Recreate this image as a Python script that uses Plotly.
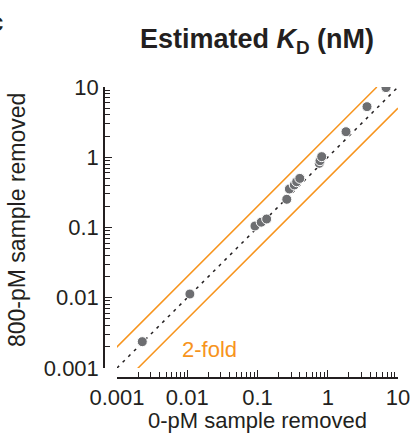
import plotly.graph_objects as go

# Estimated KD (nM)
kd_0pm_removed = [0.00229, 0.0109, 0.092, 0.113, 0.135, 0.261, 0.284, 0.334, 0.361, 0.40,
                  0.758, 0.776, 0.82, 1.82, 3.62, 6.75]
kd_800pm_removed = [0.00237, 0.0113, 0.105, 0.119, 0.132, 0.252, 0.353, 0.403, 0.449, 0.50,
                    0.82, 0.893, 1.02, 2.31, 5.25, 9.8]
line_x = [0.001, 10]
fold = 2
tick_vals = [0.001, 0.01, 0.1, 1, 10]
tick_text = ["0.001", "0.01", "0.1", "1", "10"]

ORANGE = "#f7941d"
DARK = "#231f20"
GREY = "#6d6e71"
FONT = "Liberation Sans"

fig = go.Figure()
# 2-fold lines
fig.add_trace(go.Scatter(x=[v / fold for v in line_x], y=line_x, mode="lines",
                         line=dict(color=ORANGE, width=1.5), hoverinfo="skip"))
fig.add_trace(go.Scatter(x=line_x, y=[v / fold for v in line_x], mode="lines",
                         line=dict(color=ORANGE, width=1.5), hoverinfo="skip"))
# identity line
fig.add_trace(go.Scatter(x=line_x, y=line_x, mode="lines",
                         line=dict(color=DARK, width=1.5, dash="3px,5px"), hoverinfo="skip"))
# data
fig.add_trace(go.Scatter(x=kd_0pm_removed, y=kd_800pm_removed, mode="markers",
                         marker=dict(color=GREY, size=10, line=dict(color="white", width=1))))

W, H = 412, 433
L, R, T, B = 104, 14, 87, 55
pw, ph = W - L - R, H - T - B

axis_common = dict(
    type="log", range=[-3, 1], tickvals=tick_vals, ticktext=tick_text,
    showline=True, linecolor=DARK, linewidth=1.5,
    ticks="inside", ticklen=7, tickwidth=1.3, tickcolor=DARK,
    minor=dict(ticks="inside", ticklen=5, tickwidth=1, tickcolor=DARK, dtick="D1", showgrid=False),
    showgrid=False, zeroline=False,
    tickfont=dict(family=FONT, size=22, color=DARK),
    anchor="free", position=0,
)

fig.update_layout(
    width=W, height=H,
    margin=dict(l=L, r=R, t=T, b=B, autoexpand=False),
    paper_bgcolor="white", plot_bgcolor="white",
    showlegend=False,
    xaxis=dict(axis_common, domain=[13 / pw, 1]),
    yaxis=dict(axis_common, domain=[10 / ph, 1]),
    title=dict(text="<b>Estimated <i>K</i><sub>D</sub> (nM)</b>", x=(257 - L) / pw,
               xref="paper", xanchor="center", y=(H - 39) / H, yanchor="middle",
               font=dict(family=FONT, size=27, color=DARK)),
    annotations=[
        dict(text="0-pM sample removed", x=(257 - L) / pw, y=(H - B - 420) / ph,
             xref="paper", yref="paper", xanchor="center", yanchor="middle", showarrow=False,
             font=dict(family=FONT, size=22, color=DARK)),
        dict(text="800-pM sample removed", textangle=-90, x=(17 - L) / pw, y=(H - B - 220) / ph,
             xref="paper", yref="paper", xanchor="center", yanchor="middle", showarrow=False,
             font=dict(family=FONT, size=23, color=DARK)),
        dict(text="2-fold", x=-2.1, y=-2.73, xref="x", yref="y", xanchor="left", yanchor="middle",
             showarrow=False, font=dict(family=FONT, size=22, color=ORANGE)),
        dict(text="<b>c</b>", x=(5 - L) / pw, y=1 + (T - 22) / ph, xref="paper", yref="paper",
             xanchor="right", yanchor="middle", showarrow=False,
             font=dict(family=FONT, size=26, color=DARK)),
    ],
)

fig.write_html("out.html", config={"displayModeBar": False},
               post_script="document.body.style.margin='0px';")
